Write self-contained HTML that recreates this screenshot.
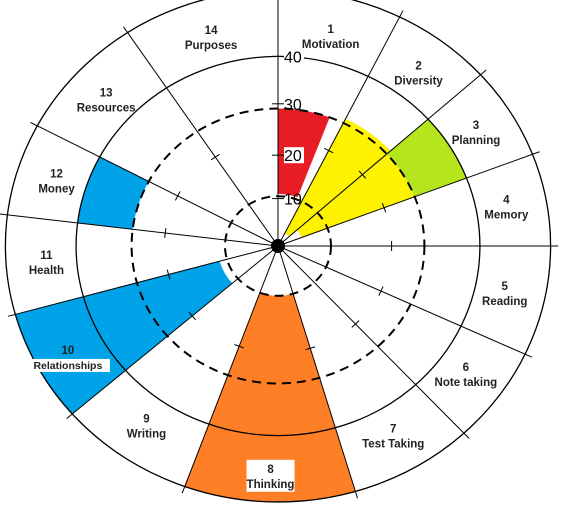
<!DOCTYPE html>
<html><head><meta charset="utf-8">
<style>
html,body{margin:0;padding:0;background:#fff;}
svg{display:block;font-family:"Liberation Sans",sans-serif;}
</style></head>
<body>
<svg id="chart" width="574" height="516" viewBox="0 0 574 516" xmlns="http://www.w3.org/2000/svg"></svg>
<script>
const categories = ["Motivation","Diversity","Planning","Memory","Reading","Note taking","Test Taking","Thinking","Writing","Relationships","Health","Money","Resources","Purposes"];
const boundaries = [0,26.5,48,69,90,115,137,163.5,200,229,254.5,277,298,326.5,360];
const segSector = [0,1,2,2,7,9,11];
const segFrom   = [11,3,5,29,10.5,12,29];
const segTo     = [29,30,29,40,54,54,40];
const segSpan   = [0.78,1,1,1,1,1,1];
const segColor  = ["#e81c24","#fff200","#fff200","#b5e61d","#ff7f27","#00a2e8","#00a2e8"];
const ringValues = [10.5,29,40,54];
const ringDashed = [true,true,false,false];
const tickLabels = ["10","20","30","40"];
const tickValues = [10,20,30,40];

const NS="http://www.w3.org/2000/svg";
const svg=document.getElementById("chart");
const CX=278, CY=246, K=4.74, SX=1.065;
function rad(v){return v*K;}
function pt(v,deg){const a=deg*Math.PI/180;return [CX+Math.sin(a)*rad(v)*SX, CY-Math.cos(a)*rad(v)];}
function mk(tag,attrs){const e=document.createElementNS(NS,tag);for(const k in attrs)e.setAttribute(k,attrs[k]);svg.appendChild(e);return e;}

segSector.forEach((s,i)=>{
  const a0=boundaries[s],a1=a0+(boundaries[s+1]-a0)*segSpan[i],r0=segFrom[i],r1=segTo[i];
  const p0=pt(r0,a0),p1=pt(r1,a0),p2=pt(r1,a1),p3=pt(r0,a1);
  const d=`M${p0} L${p1} A${rad(r1)*SX} ${rad(r1)} 0 0 1 ${p2} L${p3} A${rad(r0)*SX} ${rad(r0)} 0 0 0 ${p0}Z`;
  const e=mk("path",{d:d,fill:segColor[i]});
  
  
});
ringValues.forEach((v,i)=>{
  const e=mk("ellipse",{cx:CX,cy:CY,rx:rad(v)*SX,ry:rad(v),fill:"none",stroke:"#000","stroke-width":ringDashed[i]?2:1.3,"stroke-dasharray":ringDashed[i]?"9 6":"none"});
  
  
});
boundaries.slice(0,14).forEach((b,i)=>{
  const p=pt(55.5,b);
  const e=mk("line",{x1:CX,y1:CY,x2:p[0],y2:p[1],stroke:"#000","stroke-width":1});
  
  
  if(i>0){const q=pt(22.5,b);const a=b*Math.PI/180;const dx=Math.cos(a)*5,dy=Math.sin(a)*5;
    const t=mk("line",{x1:q[0]-dx,y1:q[1]-dy,x2:q[0]+dx,y2:q[1]+dy,stroke:"#000","stroke-width":1});
    
    }
});
tickValues.forEach((v,i)=>{
  const y=CY-rad(v)-(v===20?-4:0);
  const l=mk("line",{x1:CX-6,y1:y,x2:CX+6,y2:y,stroke:"#000","stroke-width":1});
  
  
  const bg=mk("rect",{x:CX+6,y:y-8,width:20,height:16,fill:v===40||v===20?"#fff":"none"});
  
  
  const t=mk("text",{x:CX+6,y:y+6,"font-size":"16",fill:"#000"});
  t.textContent=tickLabels[i];
  
  
});
const dot=mk("circle",{cx:CX,cy:CY,r:7,fill:"#000"});


const labelR=[45.5,46,46,46,46,46,46,48.5,46,45,46,46,46,46];
categories.forEach((c,i)=>{
  const mid=(boundaries[i]+boundaries[i+1])/2;
  let p=pt(labelR[i],mid);
  if(i===9)p=[p[0]-10,p[1]+10];
  const g=document.createElementNS(NS,"g");svg.appendChild(g);
  
  
  if(i===7||i===9){const w=i===7?48:84;const r=document.createElementNS(NS,"rect");
    r.setAttribute("x",p[0]-w/2);r.setAttribute("y",i===7?p[1]-16:p[1]+2);r.setAttribute("width",w);r.setAttribute("height",i===7?32:13);r.setAttribute("fill","#fff");g.appendChild(r);}
  const t1=document.createElementNS(NS,"text");
  t1.setAttribute("x",p[0]);t1.setAttribute("y",p[1]-3);t1.setAttribute("text-anchor","middle");t1.setAttribute("font-size","11.5");t1.setAttribute("font-weight","bold");t1.setAttribute("fill","#222");
  t1.textContent=String(i+1);g.appendChild(t1);
  const t2=document.createElementNS(NS,"text");
  t2.setAttribute("x",p[0]);t2.setAttribute("y",p[1]+12);t2.setAttribute("text-anchor","middle");t2.setAttribute("font-size",i===9?"10.5":"11.5");t2.setAttribute("font-weight","bold");t2.setAttribute("fill","#222");
  t2.textContent=c;g.appendChild(t2);
});
</script>
</body></html>
